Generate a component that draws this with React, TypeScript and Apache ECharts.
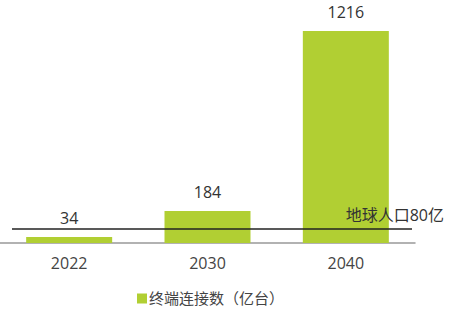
import React, { useEffect, useRef } from "react";
import * as echarts from "echarts";

const categories = ["2022", "2030", "2040"];
const connections = [34, 184, 1216];
const populationLine = 80;
const seriesName = "终端连接数（亿台）";
const lineLabel = "地球人口80亿";

const FONT = "'Open Sans', 'Noto Sans CJK SC', sans-serif";

export default function App() {
  const ref = useRef<HTMLDivElement>(null);
  useEffect(() => {
    if (!ref.current) return;
    const chart = echarts.init(ref.current, null, { renderer: "svg" });
    chart.setOption({
      animation: false,
      textStyle: { fontFamily: FONT },
      grid: { left: 0, right: 40, top: 31, bottom: 70 },
      legend: {
        data: [seriesName],
        left: 132,
        bottom: 2,
        icon: "rect",
        itemWidth: 10,
        itemHeight: 10,
        itemGap: 4,
        textStyle: { fontSize: 15, color: "#444", fontFamily: FONT, padding: [0, 0, 0, -3] },
      },
      xAxis: {
        type: "category",
        data: categories,
        axisLine: { lineStyle: { color: "#999", width: 1.5 } },
        axisTick: { show: false },
        axisLabel: { fontSize: 16, color: "#444", margin: 12, fontFamily: FONT },
      },
      yAxis: {
        type: "value",
        min: 0,
        max: 1216,
        show: false,
        splitLine: { show: false },
      },
      series: [
        {
          name: seriesName,
          type: "bar",
          data: connections,
          barWidth: 86,
          itemStyle: { color: "#b1cf33" },
          label: {
            show: true,
            position: "top",
            distance: 11,
            fontSize: 16,
            color: "#333",
            fontFamily: FONT,
          },
          markLine: {
            silent: true,
            symbol: "none",
            lineStyle: { color: "#222", width: 1.5, type: "solid" },
            label: {
              show: true,
              formatter: lineLabel,
              position: "insideEndTop",
              distance: 6,
              offset: [38, 0],
              fontSize: 16,
              color: "#333",
              fontFamily: FONT,
            },
            data: [[{ x: 12, yAxis: populationLine }, { x: 412, yAxis: populationLine }]],
          },
        },
      ],
    });
    return () => chart.dispose();
  }, []);
  return (
    <div
      ref={ref}
      style={{ position: "fixed", left: 0, top: 0, width: 455, height: 313, background: "#fff" }}
    />
  );
}
